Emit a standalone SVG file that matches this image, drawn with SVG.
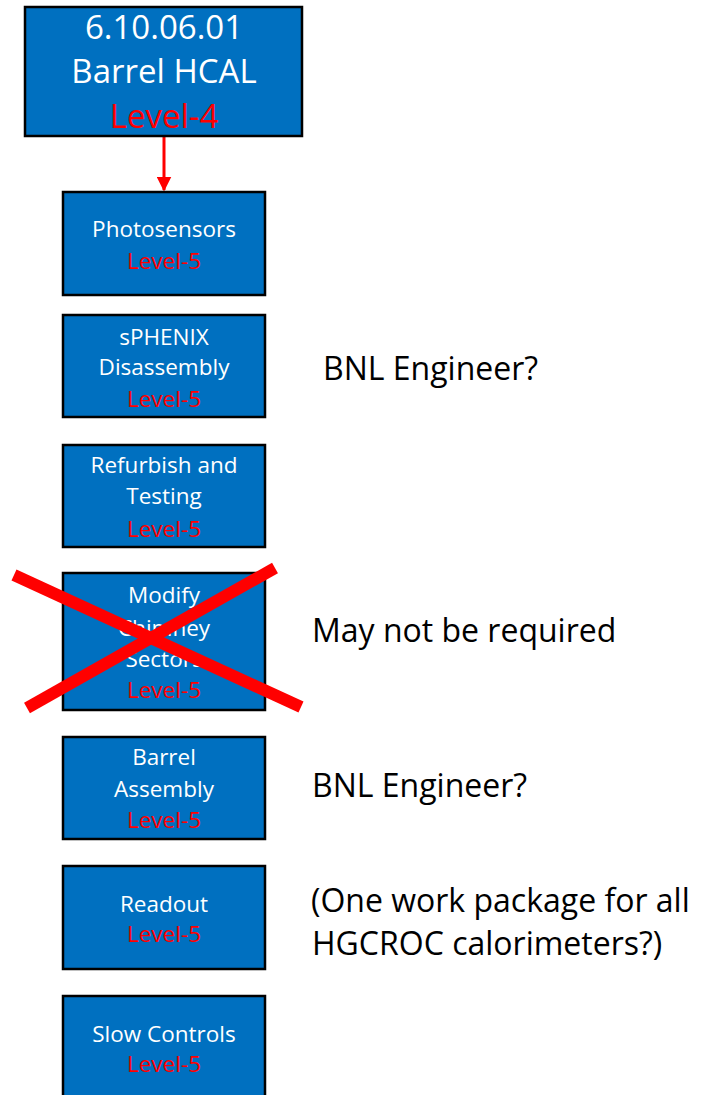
<svg xmlns="http://www.w3.org/2000/svg" width="710" height="1095" viewBox="0 0 710 1095">
<defs>
<style>
.box{fill:#0070C0;stroke:#000;stroke-width:2.5}
.t{font-family:"Open Sans","Noto Sans",sans-serif;fill:#fff;text-anchor:middle;font-size:22.5px}
.r{fill:#FF0000}
.big{font-size:33px}
.note{font-family:"Open Sans","Noto Sans",sans-serif;fill:#000;font-size:32px}
.x{stroke:#FF0000;stroke-width:12;stroke-linecap:butt}
</style>
<marker id="ah" markerWidth="5" markerHeight="5" refX="4.5" refY="2.5" orient="auto" markerUnits="strokeWidth">
<path d="M0,0 L5,2.5 L0,5 Z" fill="#FF0000"/>
</marker>
</defs>
<rect width="710" height="1095" fill="#fff"/>
<g id="connectors">
<line x1="164" y1="137" x2="164" y2="190" stroke="#FF0000" stroke-width="3" marker-end="url(#ah)"/>
</g>
<g id="n0">
<rect class="box" x="25" y="7" width="277" height="129"/>
<text class="t big" x="164" y="39">6.10.06.01</text>
<text class="t big" x="164" y="83">Barrel HCAL</text>
<text class="t big r" x="164" y="128">Level-4</text>
</g>
<g id="n1">
<rect class="box" x="63" y="192" width="202" height="103"/>
<text class="t" x="164" y="237">Photosensors</text>
<text class="t r" x="164" y="269">Level-5</text>
</g>
<g id="n2">
<rect class="box" x="63" y="315" width="202" height="102"/>
<text class="t" x="164" y="345">sPHENIX</text>
<text class="t" x="164" y="375">Disassembly</text>
<text class="t r" x="164" y="407">Level-5</text>
</g>
<g id="n3">
<rect class="box" x="63" y="445" width="202" height="102"/>
<text class="t" x="164" y="473">Refurbish and</text>
<text class="t" x="164" y="504">Testing</text>
<text class="t r" x="164" y="537">Level-5</text>
</g>
<g id="n4">
<rect class="box" x="63" y="573" width="202" height="137"/>
<text class="t" x="164" y="603">Modify</text>
<text class="t" x="164" y="636">Chimney</text>
<text class="t" x="164" y="667">Sectors</text>
<text class="t r" x="164" y="698">Level-5</text>
</g>
<g id="cross">
<line class="x" x1="14" y1="575" x2="301" y2="707"/>
<line class="x" x1="275" y1="568" x2="27" y2="708"/>
</g>
<g id="n5">
<rect class="box" x="63" y="737" width="202" height="102"/>
<text class="t" x="164" y="765">Barrel</text>
<text class="t" x="164" y="797">Assembly</text>
<text class="t r" x="164" y="828">Level-5</text>
</g>
<g id="n6">
<rect class="box" x="63" y="866" width="202" height="103"/>
<text class="t" x="164" y="912">Readout</text>
<text class="t r" x="164" y="942">Level-5</text>
</g>
<g id="n7">
<rect class="box" x="63" y="996" width="202" height="110"/>
<text class="t" x="164" y="1042">Slow Controls</text>
<text class="t r" x="164" y="1072">Level-5</text>
</g>
<g id="notes">
<text class="note" x="323" y="380">BNL Engineer?</text>
<text class="note" x="312" y="642">May not be required</text>
<text class="note" x="312" y="797">BNL Engineer?</text>
<text class="note" x="311" y="912">(One work package for all</text>
<text class="note" x="312" y="955">HGCROC calorimeters?)</text>
</g>
</svg>
